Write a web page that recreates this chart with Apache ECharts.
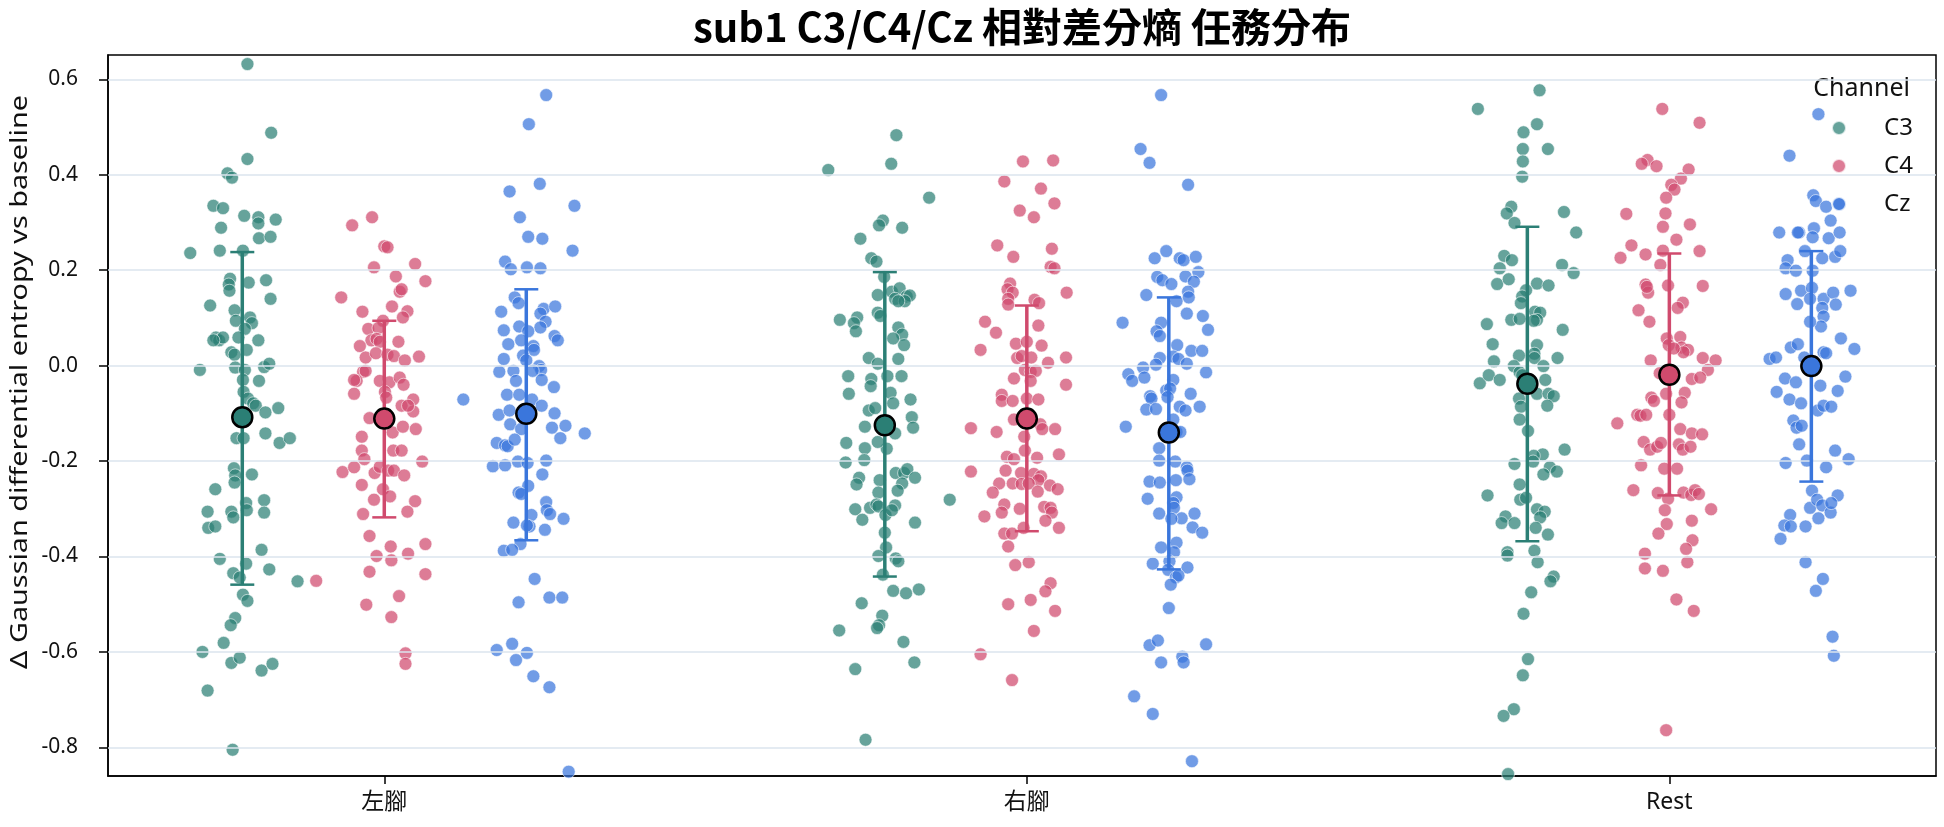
<!DOCTYPE html>
<html>
<head>
<meta charset="utf-8">
<title>sub1 C3/C4/Cz 相對差分熵 任務分布</title>
<script src="https://cdn.jsdelivr.net/npm/echarts@6/dist/echarts.min.js"></script>
<style>
    html, body { margin: 0; padding: 0; background: #fff; }
    #main { width: 1944px; height: 827px; }
</style>
</head>
<body>
<div id="main"></div>
<script>
var categories = ['左腳', '右腳', 'Rest'];
var channels = ['C3', 'C4', 'Cz'];
var yTicks = [-0.8, -0.6, -0.4, -0.2, 0.0, 0.2, 0.4, 0.6];

// each point: [jitter (category units), value]
var leftC3 = [[0.008,0.632],[0.045,0.488],[0.008,0.433],[-0.023,0.403],[-0.016,0.394],[-0.045,0.335],[-0.030,0.330],[0.003,0.314],[0.025,0.311],[0.025,0.298],[0.052,0.306],[-0.033,0.289],[0.026,0.267],[0.044,0.270],[-0.081,0.236],[-0.035,0.241],[0.001,0.241],[-0.019,0.182],[-0.021,0.170],[-0.020,0.157],[0.010,0.174],[0.037,0.179],[0.044,0.140],[-0.050,0.126],[-0.012,0.116],[-0.010,0.094],[0.012,0.101],[0.015,0.089],[0.004,0.077],[-0.006,0.059],[-0.041,0.059],[-0.036,0.053],[-0.030,0.059],[-0.045,0.053],[-0.017,0.028],[-0.012,0.023],[0.007,0.033],[0.025,0.053],[-0.066,-0.009],[-0.011,-0.004],[0.004,-0.009],[0.034,-0.003],[0.042,0.004],[0.001,-0.030],[0.026,-0.032],[0.002,-0.055],[0.009,-0.069],[0.017,-0.079],[0.021,-0.084],[0.036,-0.098],[0.056,-0.089],[-0.009,-0.152],[0.002,-0.152],[0.036,-0.142],[0.058,-0.162],[0.074,-0.152],[-0.013,-0.215],[-0.011,-0.230],[-0.012,-0.245],[0.015,-0.228],[-0.042,-0.259],[0.006,-0.288],[0.007,-0.303],[0.034,-0.282],[0.034,-0.308],[-0.054,-0.306],[-0.017,-0.306],[-0.014,-0.318],[-0.053,-0.340],[-0.042,-0.337],[0.030,-0.386],[-0.035,-0.405],[0.006,-0.415],[0.042,-0.427],[-0.014,-0.435],[-0.004,-0.444],[0.086,-0.452],[0.001,-0.480],[0.008,-0.493],[-0.011,-0.529],[-0.018,-0.544],[-0.029,-0.581],[-0.062,-0.600],[-0.017,-0.623],[-0.004,-0.612],[0.030,-0.639],[0.047,-0.625],[-0.054,-0.681],[-0.015,-0.805]];
var leftC4 = [[-0.050,0.294],[-0.019,0.311],[0.000,0.250],[0.005,0.248],[-0.016,0.206],[0.048,0.213],[0.018,0.187],[0.064,0.177],[0.024,0.155],[0.027,0.160],[-0.067,0.143],[-0.034,0.113],[0.012,0.124],[0.036,0.114],[0.029,0.101],[-0.002,0.094],[-0.025,0.077],[-0.009,0.079],[-0.020,0.053],[-0.012,0.056],[-0.007,0.050],[-0.038,0.041],[0.022,0.050],[-0.029,0.017],[-0.013,0.026],[0.005,0.023],[0.015,0.020],[0.032,0.011],[0.054,0.019],[-0.033,-0.013],[-0.029,-0.011],[-0.043,-0.032],[-0.047,-0.030],[-0.047,-0.059],[-0.007,-0.032],[0.008,-0.035],[0.024,-0.025],[0.030,-0.040],[0.001,-0.055],[0.003,-0.067],[0.027,-0.084],[0.045,-0.071],[0.045,-0.096],[0.037,-0.084],[-0.023,-0.110],[0.013,-0.140],[0.029,-0.128],[0.049,-0.133],[-0.035,-0.149],[-0.035,-0.178],[0.014,-0.178],[0.027,-0.178],[-0.031,-0.196],[0.059,-0.201],[-0.065,-0.223],[-0.047,-0.213],[-0.015,-0.225],[-0.007,-0.212],[0.006,-0.220],[0.015,-0.220],[0.031,-0.230],[-0.035,-0.250],[-0.002,-0.259],[0.009,-0.274],[-0.016,-0.281],[0.048,-0.284],[-0.033,-0.311],[0.036,-0.306],[-0.023,-0.357],[-0.012,-0.399],[0.010,-0.379],[0.011,-0.408],[0.037,-0.394],[0.064,-0.374],[-0.023,-0.432],[0.064,-0.437],[-0.028,-0.501],[0.023,-0.483],[0.011,-0.527],[0.033,-0.603],[0.033,-0.625],[-0.106,-0.451]];
var leftCz = [[0.031,0.567],[0.004,0.506],[-0.026,0.365],[0.021,0.381],[0.075,0.335],[-0.010,0.311],[0.003,0.270],[0.025,0.266],[0.072,0.241],[-0.033,0.218],[-0.024,0.202],[0.001,0.206],[0.022,0.204],[-0.018,0.143],[-0.012,0.131],[-0.039,0.113],[0.027,0.119],[0.022,0.109],[0.045,0.124],[0.030,0.092],[0.022,0.080],[-0.035,0.074],[-0.011,0.082],[0.003,0.072],[-0.028,0.045],[-0.008,0.053],[0.044,0.062],[0.049,0.053],[0.011,0.041],[0.012,0.033],[-0.035,0.014],[-0.005,0.021],[0.000,0.011],[0.020,-0.001],[0.023,-0.009],[0.010,-0.011],[-0.042,-0.013],[-0.020,-0.011],[-0.016,-0.032],[0.024,-0.030],[0.043,-0.045],[-0.098,-0.071],[-0.030,-0.061],[-0.011,-0.061],[0.009,-0.071],[0.024,-0.084],[-0.043,-0.103],[-0.026,-0.094],[-0.025,-0.123],[0.044,-0.100],[0.040,-0.130],[0.061,-0.126],[0.053,-0.152],[0.091,-0.142],[-0.008,-0.133],[-0.046,-0.162],[-0.033,-0.167],[-0.029,-0.169],[-0.018,-0.155],[-0.052,-0.211],[-0.033,-0.209],[-0.013,-0.201],[0.031,-0.199],[0.002,-0.204],[0.025,-0.228],[0.003,-0.252],[-0.012,-0.266],[-0.008,-0.269],[0.031,-0.286],[0.032,-0.303],[0.037,-0.311],[0.058,-0.321],[-0.020,-0.329],[0.008,-0.313],[0.005,-0.337],[0.001,-0.335],[0.029,-0.344],[-0.009,-0.374],[-0.035,-0.388],[-0.022,-0.386],[0.013,-0.447],[-0.012,-0.496],[0.036,-0.486],[0.056,-0.486],[-0.046,-0.596],[-0.022,-0.583],[0.001,-0.602],[-0.016,-0.617],[0.011,-0.651],[0.036,-0.674],[0.066,-0.851]];
var rightC3 = [[0.018,0.483],[0.010,0.423],[-0.088,0.410],[0.069,0.352],[-0.003,0.304],[-0.009,0.294],[0.027,0.289],[-0.038,0.266],[-0.021,0.225],[-0.013,0.218],[-0.001,0.186],[-0.011,0.148],[0.011,0.155],[0.023,0.162],[0.016,0.140],[0.034,0.145],[0.039,0.147],[0.031,0.135],[0.021,0.135],[-0.011,0.111],[-0.007,0.104],[-0.070,0.096],[-0.043,0.101],[-0.048,0.089],[-0.045,0.072],[0.021,0.080],[0.027,0.065],[0.030,0.043],[0.013,0.057],[-0.025,0.016],[-0.011,0.004],[0.021,0.014],[-0.057,-0.022],[-0.056,-0.059],[-0.021,-0.028],[-0.022,-0.043],[0.004,-0.022],[0.026,-0.022],[0.009,-0.057],[0.013,-0.079],[0.040,-0.071],[-0.025,-0.094],[-0.015,-0.089],[-0.031,-0.128],[0.042,-0.108],[0.044,-0.130],[0.016,-0.142],[0.003,-0.174],[-0.011,-0.160],[-0.060,-0.162],[-0.031,-0.173],[-0.032,-0.198],[-0.061,-0.203],[0.017,-0.225],[0.030,-0.225],[0.035,-0.217],[0.047,-0.235],[0.027,-0.247],[-0.040,-0.235],[-0.044,-0.249],[-0.008,-0.240],[-0.010,-0.266],[0.020,-0.262],[0.101,-0.281],[-0.046,-0.301],[-0.035,-0.323],[-0.023,-0.298],[-0.013,-0.291],[-0.010,-0.295],[0.001,-0.313],[0.016,-0.293],[0.011,-0.303],[0.047,-0.329],[0.000,-0.350],[0.002,-0.381],[-0.010,-0.399],[0.017,-0.404],[0.021,-0.410],[-0.003,-0.438],[0.013,-0.472],[0.033,-0.477],[0.053,-0.469],[-0.036,-0.498],[-0.004,-0.524],[-0.009,-0.544],[-0.012,-0.550],[-0.071,-0.555],[0.029,-0.579],[-0.046,-0.636],[0.046,-0.622],[-0.030,-0.784]];
var rightC4 = [[-0.006,0.428],[0.041,0.430],[-0.035,0.386],[0.022,0.371],[0.043,0.340],[-0.011,0.325],[0.011,0.311],[-0.046,0.252],[-0.021,0.228],[0.039,0.245],[0.037,0.207],[0.043,0.204],[-0.026,0.172],[-0.030,0.160],[-0.022,0.153],[-0.029,0.140],[-0.029,0.128],[0.062,0.153],[0.012,0.138],[0.019,0.131],[-0.065,0.092],[-0.048,0.069],[0.018,0.084],[-0.072,0.033],[-0.017,0.046],[0.000,0.050],[0.023,0.042],[-0.015,0.016],[-0.008,0.020],[0.007,0.017],[0.033,0.006],[0.061,0.017],[-0.003,-0.009],[0.006,-0.013],[0.014,-0.011],[-0.020,-0.027],[0.006,-0.032],[0.061,-0.040],[-0.039,-0.061],[-0.039,-0.074],[-0.022,-0.074],[0.000,-0.069],[0.018,-0.071],[-0.020,-0.113],[-0.087,-0.131],[-0.047,-0.139],[0.021,-0.123],[0.024,-0.133],[0.044,-0.133],[-0.004,-0.149],[-0.003,-0.178],[-0.031,-0.191],[-0.020,-0.196],[0.016,-0.193],[0.050,-0.186],[-0.087,-0.222],[-0.033,-0.220],[-0.009,-0.225],[0.011,-0.227],[0.022,-0.232],[0.018,-0.240],[-0.043,-0.247],[-0.022,-0.247],[-0.008,-0.248],[0.003,-0.247],[0.036,-0.251],[0.048,-0.259],[-0.053,-0.266],[0.017,-0.264],[-0.035,-0.291],[-0.039,-0.308],[-0.011,-0.300],[0.027,-0.296],[0.037,-0.298],[0.039,-0.308],[-0.066,-0.316],[0.029,-0.325],[0.050,-0.340],[-0.035,-0.352],[-0.023,-0.352],[-0.005,-0.340],[-0.029,-0.379],[-0.018,-0.418],[0.003,-0.412],[0.037,-0.456],[0.029,-0.473],[-0.029,-0.500],[0.006,-0.491],[0.044,-0.514],[0.011,-0.556],[-0.072,-0.605],[-0.023,-0.659]];
var rightCz = [[-0.012,0.567],[-0.044,0.454],[-0.030,0.425],[0.030,0.379],[-0.022,0.225],[-0.004,0.240],[0.017,0.225],[0.023,0.221],[0.042,0.228],[-0.018,0.186],[-0.010,0.179],[0.004,0.171],[0.026,0.187],[0.046,0.196],[0.039,0.176],[-0.035,0.148],[0.030,0.155],[0.031,0.143],[0.012,0.135],[-0.072,0.090],[0.028,0.109],[0.053,0.104],[0.061,0.075],[-0.012,0.090],[-0.019,0.072],[-0.014,0.062],[0.013,0.043],[0.007,0.019],[0.015,0.014],[0.035,0.031],[0.052,0.031],[-0.014,0.016],[-0.020,0.002],[-0.040,-0.004],[0.028,0.004],[-0.063,-0.018],[-0.057,-0.032],[-0.038,-0.025],[0.058,-0.014],[0.007,-0.030],[-0.004,-0.052],[0.002,-0.048],[-0.002,-0.066],[-0.029,-0.064],[-0.027,-0.069],[-0.035,-0.092],[-0.020,-0.091],[0.034,-0.059],[0.017,-0.086],[0.026,-0.094],[0.048,-0.086],[-0.067,-0.128],[0.007,-0.113],[0.012,-0.139],[0.018,-0.139],[-0.015,-0.173],[-0.015,-0.199],[0.010,-0.201],[0.028,-0.213],[0.029,-0.220],[0.032,-0.238],[-0.030,-0.243],[-0.014,-0.245],[0.011,-0.240],[-0.033,-0.279],[0.012,-0.276],[0.007,-0.288],[0.008,-0.298],[-0.015,-0.310],[0.020,-0.320],[0.040,-0.310],[0.037,-0.339],[0.052,-0.350],[0.004,-0.321],[-0.012,-0.381],[0.012,-0.371],[0.008,-0.391],[-0.025,-0.415],[0.001,-0.410],[-0.001,-0.428],[0.029,-0.423],[0.011,-0.444],[0.015,-0.440],[0.003,-0.459],[0.000,-0.508],[-0.030,-0.586],[-0.017,-0.576],[0.058,-0.584],[-0.012,-0.622],[0.021,-0.610],[0.023,-0.622],[-0.054,-0.693],[-0.025,-0.730],[0.036,-0.829]];
var restC3 = [[0.019,0.577],[-0.077,0.538],[0.015,0.506],[-0.006,0.489],[-0.007,0.454],[-0.007,0.428],[0.032,0.454],[-0.008,0.396],[-0.025,0.333],[-0.032,0.319],[-0.020,0.299],[0.057,0.322],[0.076,0.279],[-0.036,0.230],[-0.024,0.221],[-0.043,0.204],[0.054,0.211],[0.072,0.194],[-0.047,0.171],[-0.029,0.181],[0.015,0.172],[0.033,0.168],[-0.002,0.158],[-0.008,0.145],[-0.010,0.131],[-0.025,0.096],[-0.012,0.098],[0.012,0.113],[0.020,0.111],[0.015,0.096],[0.010,0.094],[-0.063,0.087],[0.055,0.075],[-0.054,0.045],[-0.052,0.009],[-0.013,0.021],[0.015,0.043],[0.011,0.025],[0.011,0.016],[0.047,0.016],[0.025,-0.001],[-0.021,-0.001],[-0.012,-0.014],[-0.008,-0.020],[-0.074,-0.037],[-0.060,-0.020],[-0.043,-0.030],[0.028,-0.030],[0.015,-0.059],[0.033,-0.059],[0.041,-0.064],[0.031,-0.084],[-0.013,-0.069],[-0.010,-0.086],[-0.012,-0.113],[0.001,-0.137],[0.058,-0.176],[0.024,-0.186],[0.010,-0.189],[0.009,-0.201],[-0.020,-0.206],[0.035,-0.213],[0.046,-0.222],[0.025,-0.228],[-0.012,-0.249],[-0.062,-0.272],[-0.011,-0.281],[-0.002,-0.277],[0.015,-0.301],[0.027,-0.306],[0.020,-0.318],[-0.034,-0.316],[-0.040,-0.330],[-0.020,-0.330],[0.013,-0.340],[0.032,-0.354],[-0.031,-0.391],[-0.031,-0.398],[0.011,-0.388],[0.016,-0.412],[0.041,-0.442],[0.036,-0.452],[0.006,-0.475],[-0.006,-0.520],[0.001,-0.615],[-0.007,-0.649],[-0.021,-0.720],[-0.037,-0.734],[-0.030,-0.856]];
var restC4 = [[-0.011,0.538],[0.047,0.509],[-0.034,0.431],[-0.043,0.423],[-0.020,0.418],[0.030,0.411],[0.018,0.392],[0.003,0.379],[0.008,0.369],[-0.005,0.352],[-0.067,0.318],[-0.006,0.319],[0.032,0.296],[-0.010,0.291],[0.011,0.264],[-0.059,0.252],[-0.076,0.226],[-0.037,0.233],[-0.010,0.241],[0.047,0.240],[-0.014,0.211],[-0.037,0.170],[-0.033,0.153],[-0.035,0.165],[-0.002,0.168],[0.052,0.167],[-0.048,0.116],[-0.031,0.092],[0.021,0.132],[0.013,0.121],[-0.004,0.057],[0.017,0.060],[-0.001,0.043],[0.019,0.038],[0.029,0.033],[0.022,0.028],[0.007,0.036],[-0.029,0.011],[0.052,0.016],[0.072,0.011],[0.060,-0.009],[-0.015,-0.016],[0.035,-0.028],[0.048,-0.025],[0.024,-0.057],[-0.005,-0.059],[-0.028,-0.067],[-0.024,-0.074],[0.019,-0.077],[-0.050,-0.103],[-0.045,-0.105],[-0.036,-0.103],[0.000,-0.103],[-0.081,-0.121],[0.017,-0.133],[0.035,-0.142],[0.051,-0.144],[-0.040,-0.160],[-0.030,-0.176],[-0.019,-0.170],[-0.013,-0.162],[0.015,-0.165],[0.021,-0.176],[0.033,-0.170],[-0.044,-0.209],[-0.008,-0.216],[0.012,-0.216],[-0.056,-0.261],[-0.018,-0.267],[-0.002,-0.279],[0.022,-0.266],[0.034,-0.271],[0.040,-0.261],[0.046,-0.269],[-0.007,-0.303],[0.065,-0.301],[-0.004,-0.332],[-0.017,-0.352],[0.035,-0.325],[0.036,-0.366],[0.026,-0.384],[0.028,-0.412],[-0.038,-0.394],[-0.038,-0.425],[-0.010,-0.430],[0.011,-0.490],[0.038,-0.514],[-0.005,-0.764]];
var restCz = [[0.011,0.527],[-0.034,0.440],[0.003,0.357],[0.007,0.345],[0.023,0.333],[0.044,0.338],[0.030,0.304],[-0.050,0.279],[-0.019,0.279],[-0.021,0.279],[0.004,0.288],[0.002,0.269],[0.027,0.267],[0.044,0.279],[-0.010,0.240],[0.017,0.225],[0.037,0.228],[0.045,0.240],[-0.037,0.221],[-0.040,0.204],[-0.024,0.199],[0.002,0.199],[-0.040,0.150],[-0.016,0.157],[0.001,0.163],[-0.002,0.140],[0.019,0.140],[0.034,0.153],[0.061,0.157],[-0.022,0.129],[0.017,0.121],[0.038,0.128],[0.019,0.103],[0.015,0.082],[-0.002,0.092],[0.046,0.057],[0.067,0.035],[-0.032,0.038],[-0.021,0.045],[-0.065,0.014],[-0.055,0.017],[-0.011,0.017],[0.019,0.028],[0.023,0.026],[-0.041,-0.027],[-0.024,-0.035],[-0.054,-0.055],[0.014,-0.042],[0.053,-0.023],[0.041,-0.053],[-0.034,-0.071],[-0.016,-0.079],[0.010,-0.094],[0.019,-0.084],[0.031,-0.086],[-0.028,-0.115],[-0.023,-0.130],[-0.015,-0.126],[-0.019,-0.165],[0.037,-0.178],[0.058,-0.196],[-0.040,-0.204],[-0.007,-0.199],[0.023,-0.213],[0.001,-0.262],[-0.002,-0.298],[0.009,-0.281],[0.017,-0.293],[0.030,-0.308],[0.041,-0.272],[0.031,-0.288],[0.011,-0.320],[-0.033,-0.313],[-0.042,-0.335],[-0.032,-0.337],[-0.009,-0.337],[-0.048,-0.363],[-0.009,-0.412],[0.018,-0.447],[0.007,-0.472],[0.033,-0.568],[0.035,-0.608]];

// mean and error bar ends per category (左腳, 右腳, Rest)
var meanC3 = [-0.108, -0.125, -0.038];
var lowC3  = [-0.459, -0.442, -0.368];
var highC3 = [0.238, 0.196, 0.291];
var meanC4 = [-0.111, -0.111, -0.019];
var lowC4  = [-0.318, -0.347, -0.272];
var highC4 = [0.094, 0.126, 0.235];
var meanCz = [-0.101, -0.140, -0.001];
var lowCz  = [-0.366, -0.427, -0.243];
var highCz = [0.160, 0.143, 0.240];

var chartDom = document.getElementById('main');
var myChart = echarts.init(chartDom);

var baseColors = ['#2b7f75', '#d04a6d', '#3a76dc'];
var dodge = [-0.221, 0, 0.221];
var points = [[leftC3, rightC3, restC3], [leftC4, rightC4, restC4], [leftCz, rightCz, restCz]];
var means = [meanC3, meanC4, meanCz];
var lows = [lowC3, lowC4, lowCz];
var highs = [highC3, highC4, highCz];

var font = '"Noto Sans", "Noto Sans CJK TC", sans-serif';

function renderBar(params, api) {
    var x = api.value(0);
    var pMid = api.coord([x, api.value(1)]);
    var pLo = api.coord([x, api.value(2)]);
    var pHi = api.coord([x, api.value(3)]);
    var color = api.visual('color');
    var cap = 12;
    return {
        type: 'group',
        children: [
            { type: 'line', shape: { x1: pHi[0], y1: pHi[1], x2: pLo[0], y2: pLo[1] }, style: { stroke: color, lineWidth: 3.5 } },
            { type: 'line', shape: { x1: pHi[0] - cap, y1: pHi[1], x2: pHi[0] + cap, y2: pHi[1] }, style: { stroke: color, lineWidth: 2.5 } },
            { type: 'line', shape: { x1: pLo[0] - cap, y1: pLo[1], x2: pLo[0] + cap, y2: pLo[1] }, style: { stroke: color, lineWidth: 2.5 } },
            { type: 'circle', shape: { cx: pMid[0], cy: pMid[1], r: 10 }, style: { fill: color, stroke: '#000', lineWidth: 2.5 } }
        ]
    };
}

var series = [{
    name: 'grid',
    type: 'line',
    data: [],
    z: 0,
    silent: true,
    markLine: {
        silent: true,
        symbol: ['none', 'none'],
        label: { show: false },
        lineStyle: { color: '#dbe4ee', width: 1.5, type: 'solid' },
        data: yTicks.map(function (v) { return { yAxis: v }; })
    }
}];

channels.forEach(function (ch, c) {
    var data = [];
    points[c].forEach(function (list, i) {
        list.forEach(function (p) {
            data.push([i + dodge[c] + p[0], p[1]]);
        });
    });
    series.push({
        name: ch,
        type: 'scatter',
        z: 2,
        symbolSize: 13,
        itemStyle: { color: baseColors[c], opacity: 0.72, borderColor: '#fff', borderWidth: 0.8 },
        data: data
    });
});

channels.forEach(function (ch, c) {
    series.push({
        name: ch + ' mean',
        type: 'custom',
        z: 5,
        renderItem: renderBar,
        itemStyle: { color: baseColors[c] },
        encode: { x: 0, y: [1, 2, 3] },
        data: categories.map(function (cat, i) {
            return [i + dodge[c], means[c][i], lows[c][i], highs[c][i]];
        })
    });
});

var option = {
    backgroundColor: '#fff',
    animation: false,
    grid: {
        left: 108, right: 8, top: 55, bottom: 51,
        show: true, borderColor: '#000', borderWidth: 1.5
    },
    graphic: [
        {
            type: 'text', x: 1022, y: 27,
            style: {
                text: 'sub1 C3/C4/Cz 相對差分熵 任務分布',
                font: 'bold 40px "Noto Sans CJK TC", "Noto Sans", sans-serif',
                fill: '#000', textAlign: 'center', textVerticalAlign: 'middle'
            }
        },
        {
            type: 'text', x: 1910, y: 89,
            style: {
                text: 'Channel',
                font: '25px ' + font,
                fill: '#111', textAlign: 'right', textVerticalAlign: 'middle'
            }
        },
        {
            // y axis title, stretched along its length like the original face
            type: 'text', x: 20, y: 382, rotation: Math.PI / 2, scaleX: 1.2,
            style: {
                text: 'Δ Gaussian differential entropy vs baseline',
                font: '24px ' + font,
                fill: '#111', textAlign: 'center', textVerticalAlign: 'middle'
            }
        }
    ],
    legend: {
        data: channels,
        orient: 'vertical',
        left: 1831,
        top: 114,
        padding: 0,
        icon: 'circle',
        itemWidth: 14,
        itemHeight: 14,
        itemGap: 10,
        textStyle: { fontSize: 24, lineHeight: 28, color: '#111', fontFamily: font, padding: [0, 0, 0, 33] }
    },
    xAxis: {
        type: 'value',
        min: -0.43,
        max: 2.415,
        splitLine: { show: false },
        axisLine: { onZero: false, lineStyle: { color: '#000', width: 1.5 } },
        axisTick: { customValues: [0, 1, 2], length: 8, lineStyle: { color: '#000', width: 1.5 } },
        axisLabel: {
            customValues: [0, 1, 2],
            margin: 15,
            fontSize: 23,
            color: '#111',
            fontFamily: font,
            formatter: function (v) { return categories[Math.round(v)]; }
        }
    },
    yAxis: {
        type: 'value',
        min: -0.86,
        max: 0.651,
        splitLine: { show: false },
        axisLine: { show: true, onZero: false, lineStyle: { color: '#000', width: 1.5 } },
        axisTick: { show: true, customValues: yTicks, length: 9, lineStyle: { color: '#000', width: 1.5 } },
        axisLabel: {
            customValues: yTicks,
            margin: 30,
            fontSize: 21,
            color: '#111',
            fontFamily: font,
            formatter: function (v) { return v.toFixed(1); }
        }
    },
    series: series
};

option && myChart.setOption(option);

window.onresize = function () {
    myChart.resize();
};
</script>
</body>
</html>
